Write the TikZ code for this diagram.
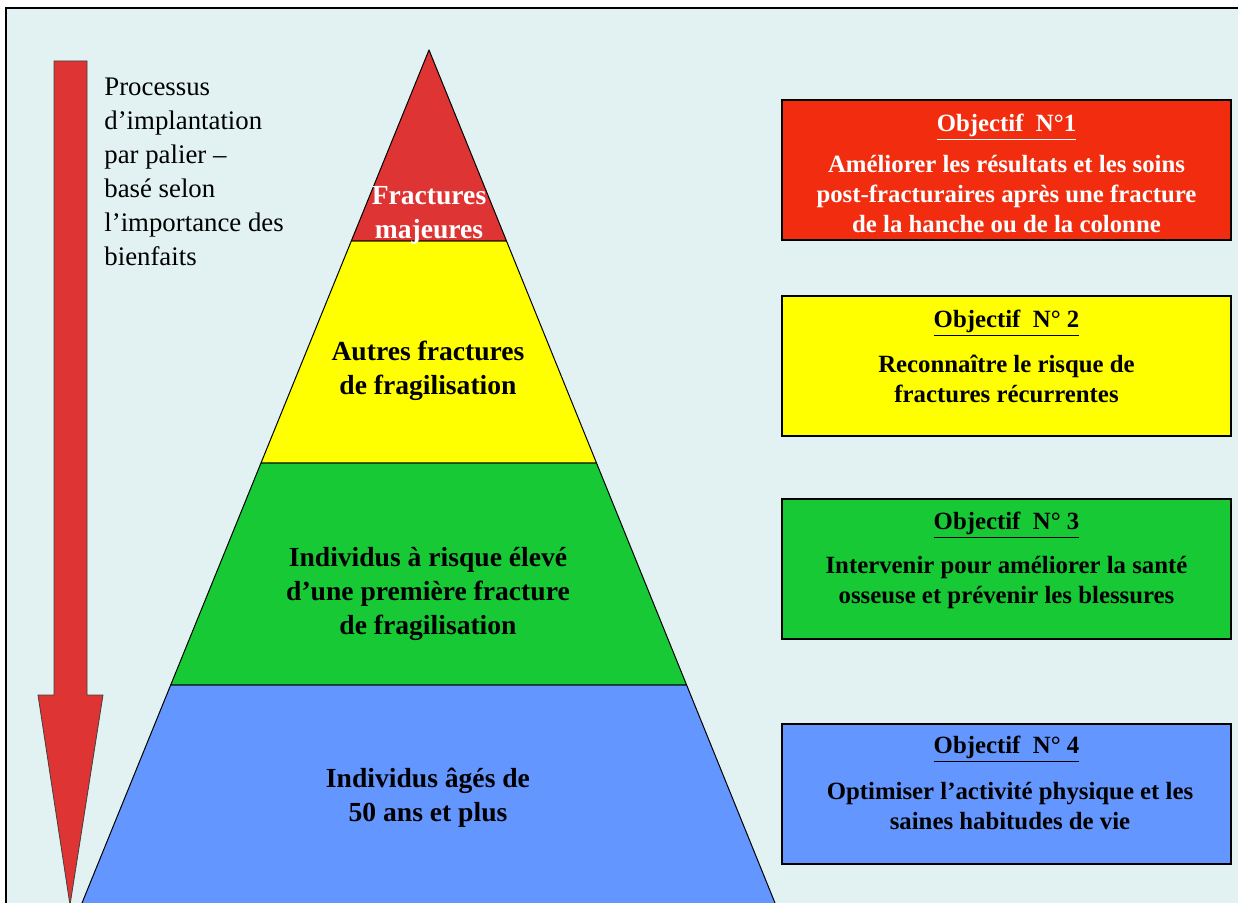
\documentclass[tikz,border=0pt]{standalone}
\usepackage{fontspec}
\setmainfont{Liberation Serif}
\definecolor{bgc}{RGB}{226,242,242}
\definecolor{pred}{RGB}{222,52,51}
\definecolor{pyel}{RGB}{255,255,0}
\definecolor{pgrn}{RGB}{24,201,54}
\definecolor{pblu}{RGB}{100,150,255}
\definecolor{bred}{RGB}{242,44,14}
\tikzset{
  layer/.style={draw=black, line width=0.5pt, line join=round},
  objbox/.style={draw=black, line width=0.8pt},
  pyrtext/.style={align=center, inner sep=0pt, font=\fontsize{13.8}{17}\selectfont\bfseries},
  lefttext/.style={align=left, inner sep=0pt, anchor=west, font=\fontsize{13.4}{17}\selectfont},
  objtitle/.style={inner sep=0pt, font=\fontsize{12.4}{15}\selectfont\bfseries},
  objbody/.style={align=center, inner sep=0pt, font=\fontsize{12.4}{15}\selectfont\bfseries},
}
\begin{document}
\begin{tikzpicture}[x=0.5pt,y=-0.5pt]
\useasboundingbox (0,0) rectangle (1238,903);
\clip (0,0) rectangle (1238,903);
\fill[white] (0,0) rectangle (1238,903);
\draw[line width=1pt, fill=bgc] (6,8) rectangle (1260,930);

% pyramid
\coordinate (apex) at (429,50);
\coordinate (l1) at (351.3,241); \coordinate (r1) at (506.5,241);
\coordinate (l2) at (261,463);   \coordinate (r2) at (596.5,463);
\coordinate (l3) at (170.7,685); \coordinate (r3) at (686.6,685);
\coordinate (l4) at (75.1,920);  \coordinate (r4) at (781.9,920);
\filldraw[layer, fill=pblu] (l3) -- (r3) -- (r4) -- (l4) -- cycle;
\filldraw[layer, fill=pgrn] (l2) -- (r2) -- (r3) -- (l3) -- cycle;
\filldraw[layer, fill=pyel] (l1) -- (r1) -- (r2) -- (l2) -- cycle;
\filldraw[layer, fill=pred] (apex) -- (r1) -- (l1) -- cycle;

\node[pyrtext, text=white] (t1) at (429,215) {Fractures\\majeures};
\node[pyrtext] (t2) at (428,371) {Autres fractures\\de fragilisation};
\node[pyrtext] (t3) at (428,594) {Individus à risque élevé\\d’une première fracture\\de fragilisation};
\node[pyrtext] (t4) at (428,798) {Individus âgés de\\50 ans et plus};

% arrow
\filldraw[fill=pred, draw=black!75, line width=0.4pt, line join=miter]
  (54,61) -- (87,61) -- (87,695) -- (103,695) -- (70,905) -- (38,695) -- (54,695) -- cycle;
\node[lefttext] (proc) at (104,172) {Processus\\d’implantation\\par palier –\\basé selon\\l’importance des\\bienfaits};

% objective boxes
\filldraw[objbox, fill=bred] (782,100) rectangle (1231,240);
\node[objtitle, text=white] (o1t) at (1006.5,127) {\underline{Objectif\ \ N°1}};
\node[objbody, text=white] (o1b) at (1006.5,194.5) {Améliorer les résultats et les soins\\post-fracturaires après une fracture\\de la hanche ou de la colonne};

\filldraw[objbox, fill=pyel] (782,296) rectangle (1231,436);
\node[objtitle] (o2t) at (1006.5,323) {\underline{Objectif\ \ N° 2}};
\node[objbody] (o2b) at (1006.5,379) {Reconnaître le risque de\\fractures récurrentes};

\filldraw[objbox, fill=pgrn] (782,499) rectangle (1231,639);
\node[objtitle] (o3t) at (1006.5,525) {\underline{Objectif\ \ N° 3}};
\node[objbody] (o3b) at (1006.5,583) {Intervenir pour améliorer la santé\\osseuse et prévenir les blessures};

\filldraw[objbox, fill=pblu] (782,724) rectangle (1231,864);
\node[objtitle] (o4t) at (1006.5,749) {\underline{Objectif\ \ N° 4}};
\node[objbody] (o4b) at (1010,806.5) {Optimiser l’activité physique et les\\saines habitudes de vie};
\end{tikzpicture}
\end{document}
